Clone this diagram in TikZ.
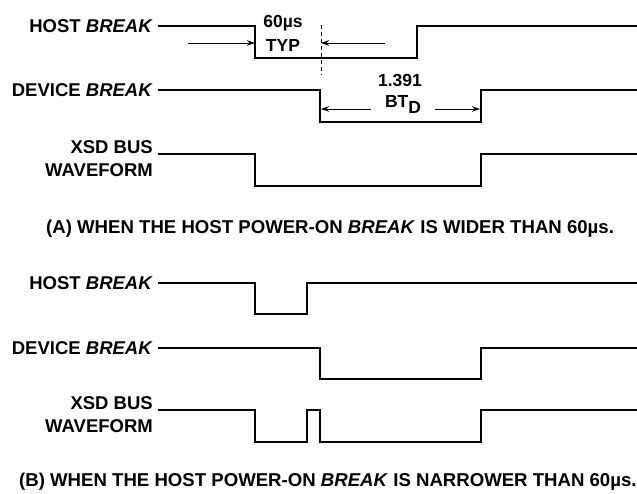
\documentclass[tikz,border=0pt]{standalone}
\usepackage{fontspec}
\setmainfont{Liberation Sans}
\usetikzlibrary{arrows.meta}
\begin{document}
\begin{tikzpicture}[x=1pt,y=-1pt,
  lbl/.style={font=\fontsize{18.5}{23}\selectfont\bfseries, inner sep=0pt, anchor=east, align=right},
  captext/.style={font=\fontsize{18.6}{20}\selectfont\bfseries, inner sep=0pt, anchor=west},
  dimtext/.style={font=\fontsize{17.5}{20}\selectfont\bfseries, inner sep=0pt},
  sig/.style={line width=2.7pt, line join=miter},
  dimarrow/.style={line width=0.9pt, -{Stealth[length=8pt,width=5.5pt]}},
  guide/.style={line width=0.8pt, dash pattern=on 4pt off 3pt},
]
\useasboundingbox (0,0) rectangle (637,494);

% ---------- (A) ----------
\node[lbl] (hA) at (153,26) {HOST \textit{BREAK}};
\node[lbl] (dA) at (153,90) {DEVICE \textit{BREAK}};
\node[lbl] (xA) at (153,158.5) {XSD BUS\\WAVEFORM};

\draw[sig] (158,26) -- (255,26) -- (255,58) -- (417,58) -- (417,26) -- (637,26);
\draw[sig] (158,90) -- (320,90) -- (320,122) -- (481,122) -- (481,90) -- (637,90);
\draw[sig] (158,154) -- (255,154) -- (255,186) -- (481,186) -- (481,154) -- (637,154);

\node[dimtext] (t60) at (283,23) {60µs};
\node[dimtext] (ttyp) at (283,45) {TYP};

\coordinate (gtop) at (321,25);
\coordinate (gbot) at (321,75);
\draw[guide] (gtop) -- (gbot);

\coordinate (la) at (188,43);
\coordinate (lb) at (255,43);
\coordinate (ra) at (385,43);
\coordinate (rb) at (321,43);
\draw[dimarrow] (la) -- (lb);
\draw[dimarrow] (ra) -- (rb);

\node[dimtext] (t1391) at (400,80) {1.391};
\node[dimtext] (tbt) at (403,104) {BT\raisebox{-6pt}{D}};
\coordinate (da) at (371,109);
\coordinate (db) at (321,109);
\coordinate (dc) at (435,109);
\coordinate (dd) at (480,109);
\draw[dimarrow] (da) -- (db);
\draw[dimarrow] (dc) -- (dd);

\node[captext] (capA) at (46,229) {(A) WHEN THE HOST POWER-ON \textit{BREAK} IS WIDER THAN 60µs.};

% ---------- (B) ----------
\node[lbl] (hB) at (153,283) {HOST \textit{BREAK}};
\node[lbl] (dB) at (153,348) {DEVICE \textit{BREAK}};
\node[lbl] (xB) at (153,415) {XSD BUS\\WAVEFORM};

\draw[sig] (158,283) -- (255,283) -- (255,314) -- (307,314) -- (307,283) -- (637,283);
\draw[sig] (158,348) -- (320,348) -- (320,379) -- (481,379) -- (481,348) -- (637,348);
\draw[sig] (158,410) -- (255,410) -- (255,442) -- (307,442) -- (307,410) -- (320,410) -- (320,442) -- (481,442) -- (481,410) -- (637,410);

\node[captext] (capB) at (19,482) {(B) WHEN THE HOST POWER-ON \textit{BREAK} IS NARROWER THAN 60µs.};
\end{tikzpicture}
\end{document}
